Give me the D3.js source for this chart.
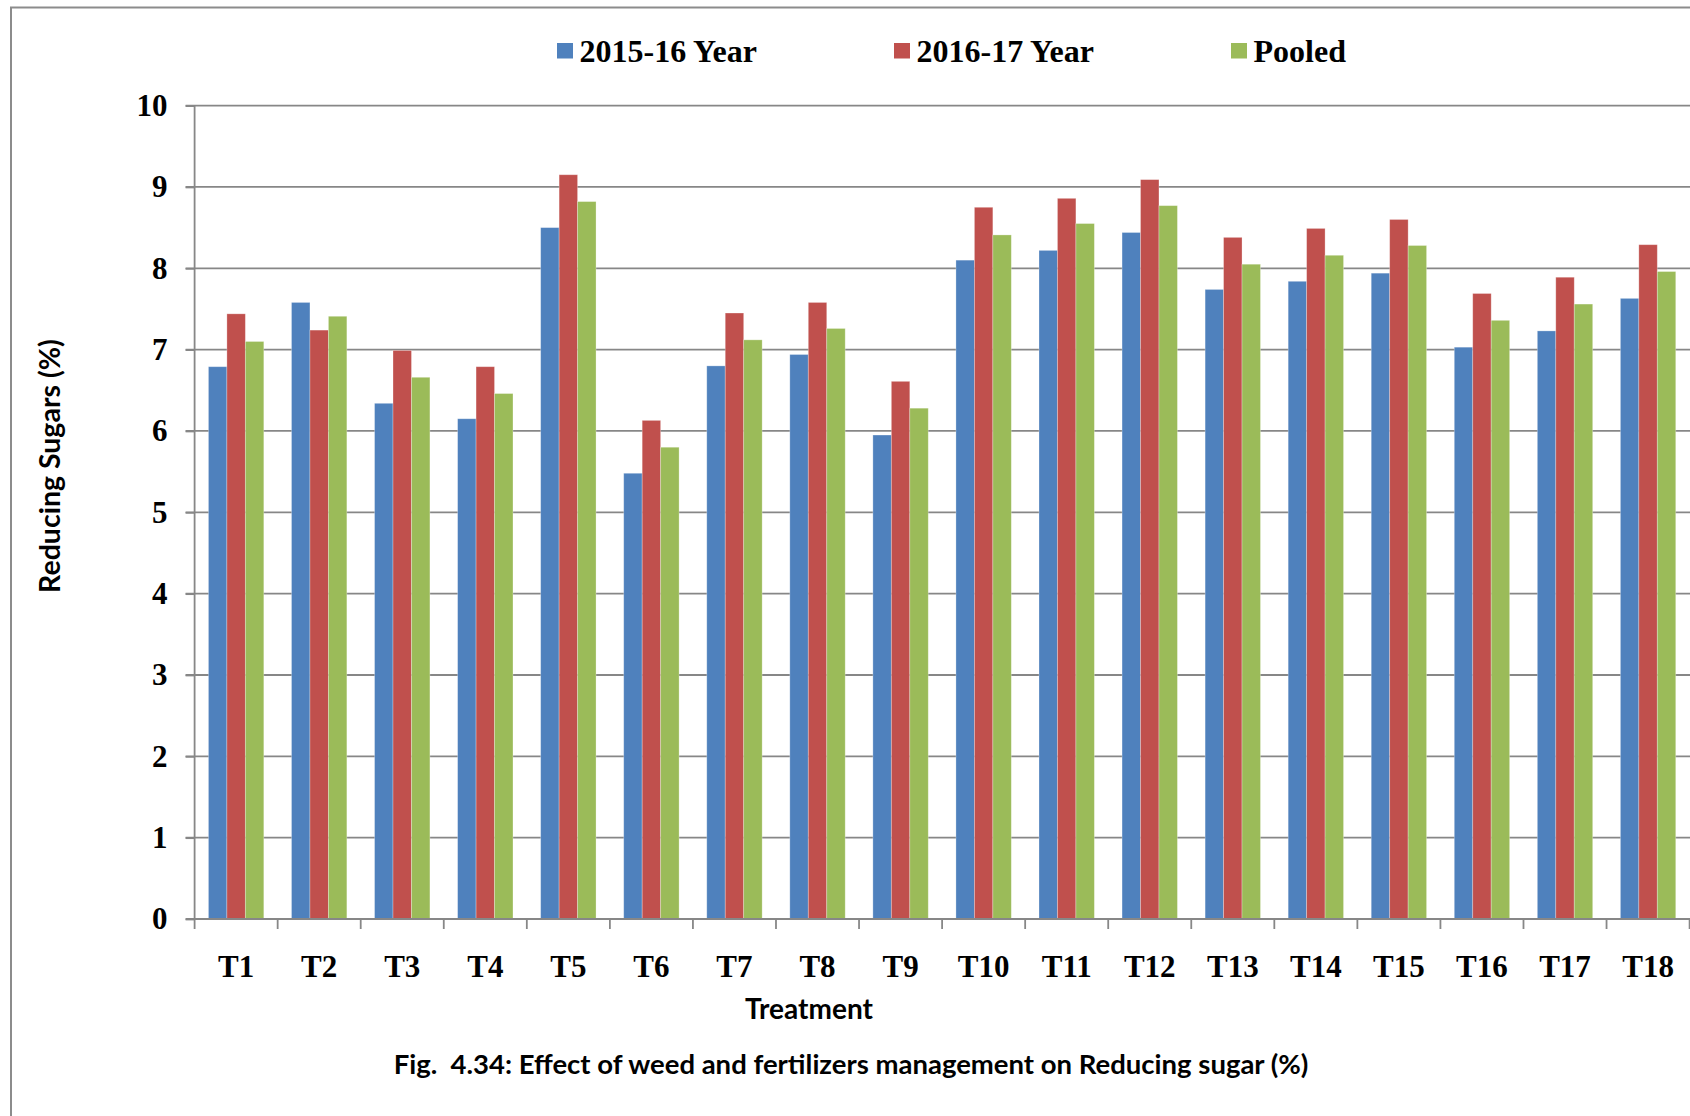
<!DOCTYPE html>
<html>
<head>
<meta charset="utf-8">
<script src="https://cdn.jsdelivr.net/npm/d3@7"></script>
<style>
  body { margin: 0; background: #fff; }
  svg { display: block; }
</style>
</head>
<body>
<div id="chart-area"></div>
<script>
// data
const treatments = ["T1","T2","T3","T4","T5","T6","T7","T8","T9","T10","T11","T12","T13","T14","T15","T16","T17","T18"]
const seriesNames = ["2015-16 Year", "2016-17 Year", "Pooled"]
const year1 = [6.79, 7.58, 6.34, 6.15, 8.50, 5.48, 6.80, 6.94, 5.95, 8.10, 8.22, 8.44, 7.74, 7.84, 7.94, 7.03, 7.23, 7.63]
const year2 = [7.44, 7.24, 6.99, 6.79, 9.15, 6.13, 7.45, 7.58, 6.61, 8.75, 8.86, 9.09, 8.38, 8.49, 8.60, 7.69, 7.89, 8.29]
const pooled = [7.10, 7.41, 6.66, 6.46, 8.82, 5.80, 7.12, 7.26, 6.28, 8.41, 8.55, 8.77, 8.05, 8.16, 8.28, 7.36, 7.56, 7.96]
const yTicks = [0, 1, 2, 3, 4, 5, 6, 7, 8, 9, 10]

const colors = ["#4F81BD", "#C0504D", "#9BBB59"]
const seriesValues = [year1, year2, pooled]

const W = 1690
const H = 1116
const PLOT = { LEFT: 194.6, RIGHT: 1689.6, TOP: 105.6, BOTTOM: 919 }
const GRID = "#878787"

const svg = d3.select("#chart-area").append("svg")
  .attr("width", W)
  .attr("height", H)

svg.append("rect")
  .attr("width", W).attr("height", H)
  .attr("fill", "#fff")

// outer frame (runs off the right and bottom edges)
svg.append("path")
  .attr("d", `M11,${H + 5} L11,7.5 L${W + 5},7.5`)
  .attr("fill", "none")
  .attr("stroke", "#8c8c8c")
  .attr("stroke-width", 2)

// scales
const x = d3.scaleBand()
  .domain(treatments)
  .range([PLOT.LEFT, PLOT.RIGHT])
  .paddingInner(0)
  .paddingOuter(0)

const xSub = d3.scaleBand()
  .domain(seriesNames)
  .range([0, x.bandwidth()])
  .paddingInner(0)
  .paddingOuter(0.75)

const y = d3.scaleLinear()
  .domain([0, 10])
  .range([PLOT.BOTTOM, PLOT.TOP])

// gridlines
svg.append("g")
  .attr("class", "grid")
  .selectAll("line")
  .data(yTicks)
  .enter().append("line")
  .attr("x1", PLOT.LEFT - 9)
  .attr("x2", W)
  .attr("y1", d => y(d))
  .attr("y2", d => y(d))
  .attr("stroke", GRID)
  .attr("stroke-width", 1.8)

// bars
const rows = treatments.map((t, i) => ({
  t: t,
  vals: seriesNames.map((s, j) => ({ s: s, j: j, v: seriesValues[j][i] }))
}))

const groups = svg.append("g")
  .selectAll("g")
  .data(rows)
  .enter().append("g")
  .attr("transform", d => `translate(${x(d.t)},0)`)

groups.selectAll("rect")
  .data(d => d.vals)
  .enter().append("rect")
  .attr("x", d => xSub(d.s))
  .attr("width", xSub.bandwidth())
  .attr("y", d => y(d.v))
  .attr("height", d => y(0) - y(d.v))
  .attr("fill", d => colors[d.j])
  .attr("stroke", "rgba(255,255,255,0.35)")
  .attr("stroke-width", 0.8)

// y axis
const yAxis = svg.append("g")
  .attr("transform", `translate(${PLOT.LEFT},0)`)
  .call(d3.axisLeft(y).tickValues(yTicks).tickSize(9).tickPadding(18))

yAxis.select(".domain")
  .attr("stroke", GRID)
  .attr("stroke-width", 1.8)
  .attr("d", `M0,${PLOT.TOP}V${PLOT.BOTTOM}`)
yAxis.selectAll(".tick line").attr("stroke", GRID).attr("stroke-width", 1.8)
yAxis.selectAll(".tick text")
  .attr("fill", "#000")
  .style("font-family", "'Liberation Serif', 'Times New Roman', serif")
  .style("font-weight", "bold")
  .style("font-size", "31px")

// x axis: labels at band centres, tick marks at band edges
const xAxis = svg.append("g")
  .attr("transform", `translate(0,${PLOT.BOTTOM})`)
  .call(d3.axisBottom(x).tickSize(0).tickPadding(36))

xAxis.select(".domain").remove()
xAxis.selectAll(".tick text")
  .attr("fill", "#000")
  .style("font-family", "'Liberation Serif', 'Times New Roman', serif")
  .style("font-weight", "bold")
  .style("font-size", "31px")

const edges = treatments.map(t => x(t)).concat([x.range()[1]])
xAxis.append("line")
  .attr("x1", PLOT.LEFT).attr("x2", W)
  .attr("stroke", GRID).attr("stroke-width", 1.8)
xAxis.selectAll(".edge")
  .data(edges)
  .enter().append("line")
  .attr("class", "edge")
  .attr("x1", d => d).attr("x2", d => d)
  .attr("y1", 0).attr("y2", 10)
  .attr("stroke", GRID).attr("stroke-width", 1.8)

// legend
const legend = svg.append("g")
  .selectAll("g")
  .data(seriesNames)
  .enter().append("g")
  .attr("transform", (d, i) => `translate(${557 + i * 337},0)`)

legend.append("rect")
  .attr("y", 43)
  .attr("width", 16)
  .attr("height", 15.5)
  .attr("fill", (d, i) => colors[i])

legend.append("text")
  .attr("x", 22.5)
  .attr("y", 61.5)
  .style("font-family", "'Liberation Serif', 'Times New Roman', serif")
  .style("font-weight", "bold")
  .style("font-size", "32px")
  .text(d => d)

// axis titles and caption
svg.append("text")
  .attr("transform", "translate(60,466) rotate(-90)")
  .attr("text-anchor", "middle")
  .style("font-family", "Lato, 'Open Sans', sans-serif")
  .style("font-weight", "bold")
  .style("font-size", "28.5px")
  .text("Reducing Sugars (%)")

svg.append("text")
  .attr("x", 809)
  .attr("y", 1019)
  .attr("text-anchor", "middle")
  .style("font-family", "Lato, 'Open Sans', sans-serif")
  .style("font-weight", "bold")
  .style("font-size", "28px")
  .text("Treatment")

svg.append("text")
  .attr("x", 851)
  .attr("y", 1074)
  .attr("text-anchor", "middle")
  .style("font-family", "Lato, 'Open Sans', sans-serif")
  .style("font-weight", "bold")
  .style("font-size", "27.5px")
  .style("white-space", "pre")
  .text("Fig.  4.34: Effect of weed and fertilizers management on Reducing sugar (%)")
</script>
</body>
</html>
